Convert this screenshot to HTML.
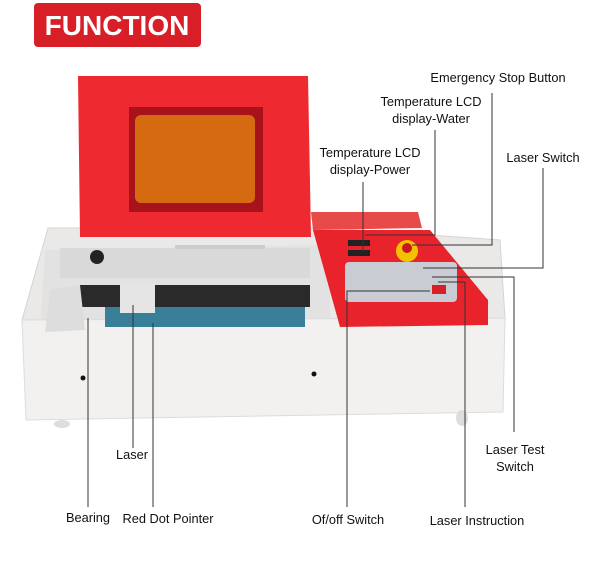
<!DOCTYPE html>
<html><head><meta charset="utf-8"><style>
body{margin:0;background:#fff;width:600px;height:574px;overflow:hidden}
text{font-family:"Liberation Sans",Arial,sans-serif;font-size:12.8px;fill:#111}
</style></head><body>
<svg width="600" height="574" viewBox="0 0 600 574" xmlns="http://www.w3.org/2000/svg">
<rect x="34" y="3" width="167" height="44" rx="4" fill="#d81e26"/>
<text x="117" y="35" text-anchor="middle" style="font-size:28px;font-weight:bold;fill:#fff">FUNCTION</text>
<!-- body -->
<polygon points="48,228 330,228 500,240 505,318 22,320" fill="#ebe9e7" stroke="#d5d5d5" stroke-width="1"/>
<polygon points="45,250 330,245 330,330 40,332" fill="#e2e2e2"/>
<polygon points="22,320 505,318 503,412 26,420" fill="#f3f1ef" stroke="#dcdcdc" stroke-width="1"/>
<rect x="60" y="248" width="250" height="30" fill="#d9d9d9"/>
<circle cx="97" cy="257" r="7" fill="#222"/>
<rect x="175" y="245" width="90" height="4" fill="#ccc"/>
<rect x="80" y="285" width="230" height="22" fill="#2a2a2a"/>
<rect x="105" y="307" width="200" height="20" fill="#3a7f9a"/>
<polygon points="50,290 80,285 85,330 45,332" fill="#ddd"/>
<rect x="120" y="283" width="35" height="30" fill="#e5e5e5"/>
<circle cx="83" cy="378" r="2.5" fill="#111"/>
<circle cx="314" cy="374" r="2.5" fill="#111"/>
<ellipse cx="62" cy="424" rx="8" ry="4" fill="#ddd"/>
<ellipse cx="462" cy="418" rx="6" ry="8" fill="#ddd"/>
<!-- control panel -->
<polygon points="311,212 418,212 422,228 313,230" fill="#e84a4a"/>
<polygon points="313,230 430,230 488,300 488,325 340,327" fill="#e8232c"/>
<rect x="345" y="262" width="112" height="40" rx="4" fill="#c9ccd3"/>
<rect x="348" y="240" width="22" height="6" fill="#222"/>
<rect x="348" y="250" width="22" height="6" fill="#222"/>
<circle cx="407" cy="251" r="11" fill="#f2c100"/>
<circle cx="407" cy="248" r="5" fill="#c8161e"/>
<rect x="432" y="285" width="14" height="9" fill="#d81e26"/>
<!-- lid -->
<polygon points="78,76 308,76 311,237 80,237" fill="#ee2a30"/>
<rect x="129" y="107" width="134" height="105" fill="#a8121a"/>
<rect x="135" y="115" width="120" height="88" rx="6" fill="#d66a10"/>
<!-- connectors -->
<g stroke="#333" stroke-width="1" fill="none">
<polyline points="492,93 492,245 412,245"/>
<polyline points="435,130 435,235 365,235"/>
<polyline points="363,182 363,252"/>
<polyline points="543,168 543,268 423,268"/>
<polyline points="514,432 514,277 432,277"/>
<polyline points="465,507 465,282 438,282"/>
<polyline points="347,507 347,291 430,291"/>
<line x1="88" y1="318" x2="88" y2="507"/>
<line x1="133" y1="305" x2="133" y2="448"/>
<line x1="153" y1="323" x2="153" y2="507"/>
</g>
<text x="498" y="82" text-anchor="middle">Emergency Stop Button</text>
<text x="431" y="106" text-anchor="middle">Temperature LCD</text>
<text x="431" y="123" text-anchor="middle">display-Water</text>
<text x="370" y="157" text-anchor="middle">Temperature LCD</text>
<text x="370" y="174" text-anchor="middle">display-Power</text>
<text x="543" y="162" text-anchor="middle">Laser Switch</text>
<text x="515" y="454" text-anchor="middle">Laser Test</text>
<text x="515" y="471" text-anchor="middle">Switch</text>
<text x="132" y="459" text-anchor="middle">Laser</text>
<text x="88" y="522" text-anchor="middle">Bearing</text>
<text x="168" y="523" text-anchor="middle">Red Dot Pointer</text>
<text x="348" y="524" text-anchor="middle">Of/off Switch</text>
<text x="477" y="525" text-anchor="middle">Laser Instruction</text>
</svg>
</body></html>
